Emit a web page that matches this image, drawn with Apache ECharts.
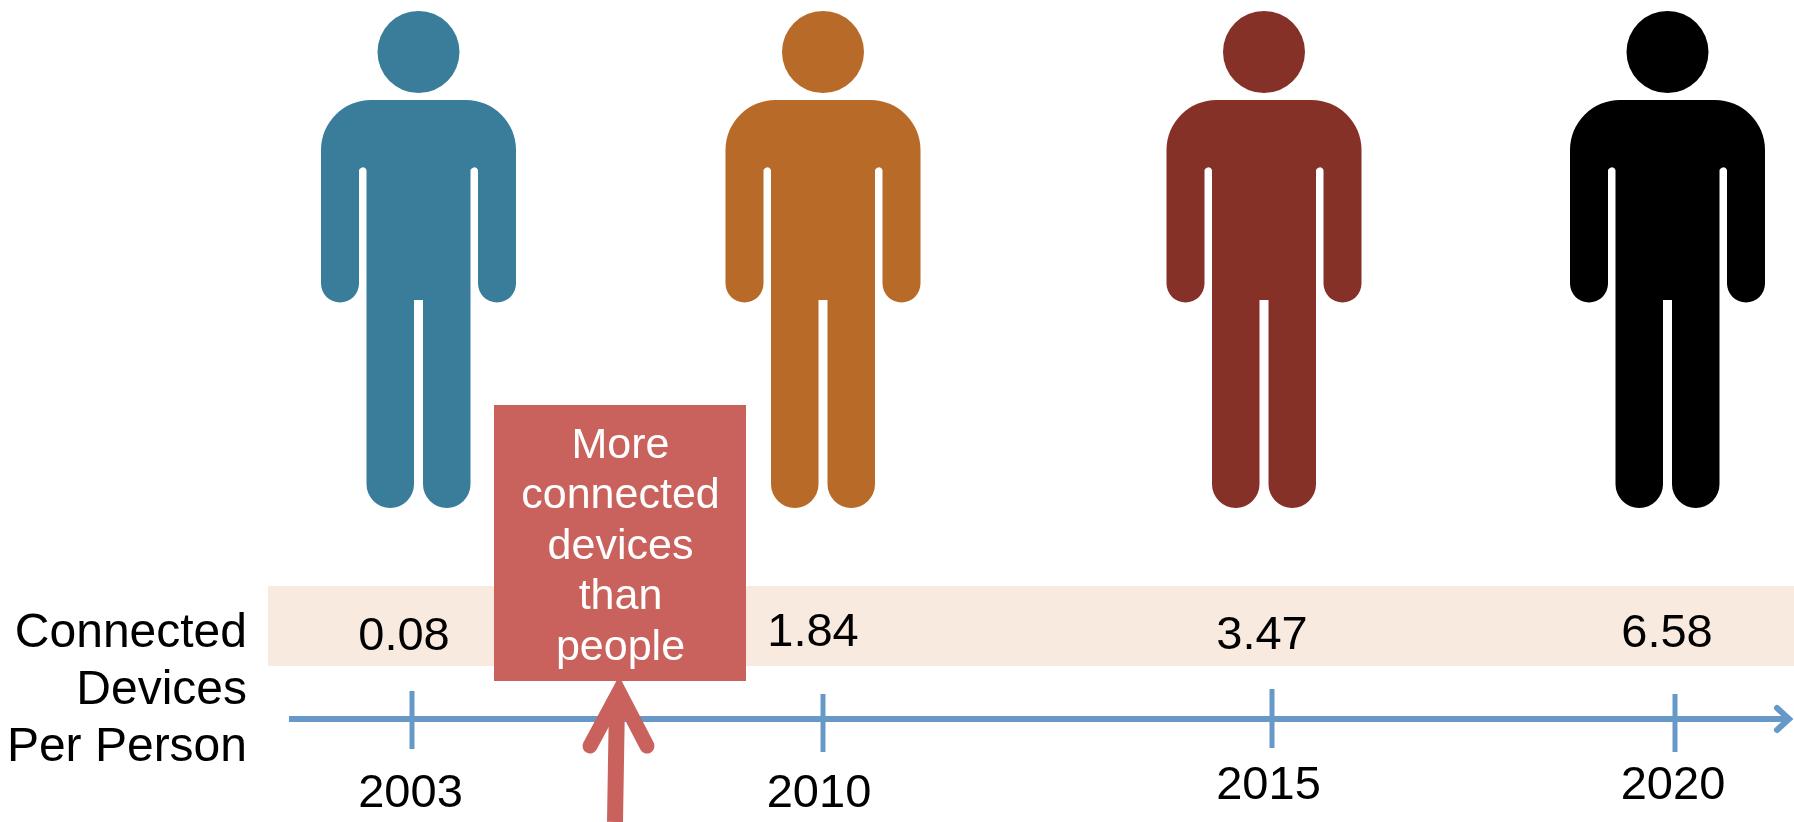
<!DOCTYPE html>
<html>
<head>
<meta charset="utf-8">
<style>html,body{margin:0;padding:0;background:#fff}#chart{width:1794px;height:822px}</style>
<script src="https://cdn.jsdelivr.net/npm/echarts@6/dist/echarts.min.js"></script>
</head>
<body>
<div id="chart"></div>
<script>
// Timeline content
const years = ['2003', '2010', '2015', '2020'];
const devicesPerPerson = ['0.08', '1.84', '3.47', '6.58'];
const figureColors = ['#3A7D9B', '#B86B29', '#863128', '#000000'];
const rowTitle = 'Connected\nDevices\nPer Person';
const callout = 'More\nconnected\ndevices\nthan\npeople';

// Places along the schematic timeline, in the axis units of the drawing
const figureStops = [418.5, 823, 1264, 1667.5];
const tickStops = [412, 823, 1272, 1675];
const valueStops = [[404, 637], [813, 633.5], [1262, 636.5], [1667, 634]];
const yearStops = [[410.5, 794], [819, 794], [1268.5, 786], [1673, 786]];
const tickSpans = [[691, 749], [694, 752], [689, 748], [694, 752]];

// Standing person: head plus body, drawn at the size of its symbol box
const personPath = 'path://M-41,52A41,41 0 1 1 41,52A41,41 0 1 1 -41,52Z' +
  'M-47.5,100L47.5,100A50,50 0 0 1 97.5,150L97.5,283.5A19,19 0 0 1 59.5,283.5L59.5,170A4,4 0 0 0 52,170' +
  'L52,484.25A23.75,23.75 0 0 1 4.5,484.25L4.5,300L-4.5,300L-4.5,484.25A23.75,23.75 0 0 1 -52,484.25' +
  'L-52,170A4,4 0 0 0 -59.5,170L-59.5,283.5A19,19 0 0 1 -97.5,283.5L-97.5,150A50,50 0 0 1 -47.5,100Z';

const FONT = '"Liberation Sans", Arial, sans-serif';
const BLUE = '#6699C8';
const RED = '#C9625D';

function textSeries(name, rows, fontSize, z) {
  return {
    type: 'custom', name, coordinateSystem: 'cartesian2d', z, silent: true,
    data: rows,
    encode: { x: 0, y: 1 },
    renderItem(params, api) {
      const p = api.coord([api.value(0), api.value(1)]);
      return {
        type: 'text', x: p[0], y: p[1],
        style: { text: rows[params.dataIndex][2], font: fontSize + 'px ' + FONT, fill: '#000',
          align: 'center', verticalAlign: 'middle' }
      };
    }
  };
}

function rectSeries(name, corners, fill, z) {
  return {
    type: 'custom', name, coordinateSystem: 'cartesian2d', z, silent: true,
    data: [corners],
    renderItem(params, api) {
      const a = api.coord([corners[0], corners[1]]);
      const b = api.coord([corners[2], corners[3]]);
      return { type: 'rect', shape: { x: a[0], y: a[1], width: b[0] - a[0], height: b[1] - a[1] }, style: { fill } };
    }
  };
}

function lineSeries(name, runs, stroke, width, cap, z) {
  return {
    type: 'custom', name, coordinateSystem: 'cartesian2d', z, silent: true,
    data: runs.map((r, i) => [i]),
    renderItem(params, api) {
      const pts = runs[params.dataIndex].map(q => api.coord(q));
      return {
        type: 'polyline', shape: { points: pts },
        style: { stroke, lineWidth: width, fill: null, lineCap: cap, lineJoin: 'miter', miterLimit: 8 }
      };
    }
  };
}

const chart = echarts.init(document.getElementById('chart'), null, { renderer: 'canvas' });
chart.setOption({
  animation: false,
  backgroundColor: '#ffffff',
  grid: { left: 0, right: 0, top: 0, bottom: 0 },
  xAxis: { type: 'value', min: 0, max: 1794, show: false },
  yAxis: { type: 'value', min: 0, max: 822, inverse: true, show: false },
  series: [
    rectSeries('Band', [268, 586, 1794, 666], '#F9EADF', 1),
    {
      type: 'scatter', name: 'People', z: 2, silent: true,
      symbol: personPath, symbolSize: [195, 497],
      data: figureStops.map((x, i) => ({ value: [x, 259.5], itemStyle: { color: figureColors[i], opacity: 1 } }))
    },
    lineSeries('Timeline', [[[289, 719], [1788, 719]]], BLUE, 6, 'butt', 3),
    lineSeries('Timeline head', [[[1777, 708], [1789, 719], [1777, 730]]], BLUE, 6, 'round', 3),
    lineSeries('Year ticks', tickStops.map((x, i) => [[x, tickSpans[i][0]], [x, tickSpans[i][1]]]), BLUE, 5, 'butt', 3),
    rectSeries('Callout', [494, 405, 746, 681], RED, 5),
    lineSeries('Callout arrow shaft', [[[615, 822], [617, 700]]], RED, 16, 'butt', 6),
    lineSeries('Callout arrow head', [[[590, 746], [619, 692], [647, 746]]], RED, 15, 'round', 6),
    textSeries('Values', valueStops.map((p, i) => [p[0], p[1], devicesPerPerson[i]]), 47, 7),
    textSeries('Years', yearStops.map((p, i) => [p[0], p[1], years[i]]), 47, 7),
    {
      type: 'custom', name: 'Row title', coordinateSystem: 'cartesian2d', z: 7, silent: true,
      data: [[247, 691]],
      renderItem(params, api) {
        const p = api.coord([247, 691]);
        return { type: 'text', x: p[0], y: p[1], style: { text: rowTitle, font: '48px ' + FONT, fill: '#000',
          align: 'right', verticalAlign: 'middle', lineHeight: 57 } };
      }
    },
    {
      type: 'custom', name: 'Callout text', coordinateSystem: 'cartesian2d', z: 7, silent: true,
      data: [[620.5, 547]],
      renderItem(params, api) {
        const p = api.coord([620.5, 547]);
        return { type: 'text', x: p[0], y: p[1], style: { text: callout, font: '43px ' + FONT, fill: '#fff',
          align: 'center', verticalAlign: 'middle', lineHeight: 50.5 } };
      }
    }
  ]
});
</script>
</body>
</html>
